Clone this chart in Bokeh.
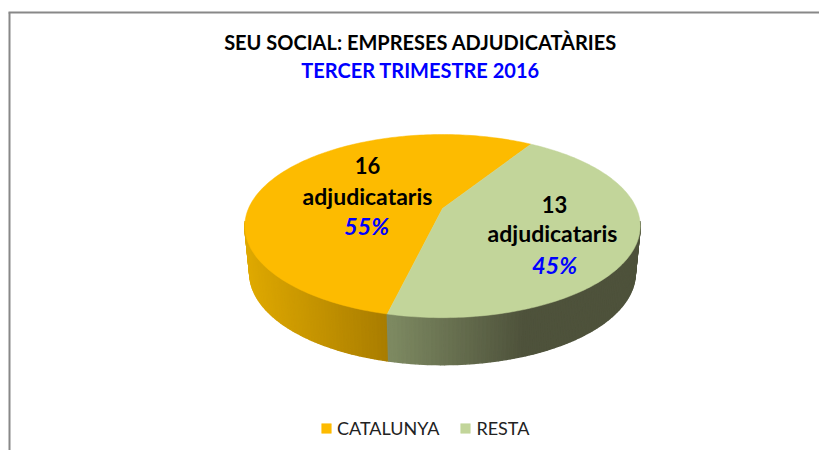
import numpy as np
from bokeh.plotting import figure
from bokeh.models import Range1d, Legend, LegendItem
from bokeh.core.properties import value
from bokeh.embed import file_html
from bokeh.resources import INLINE

categories = ["CATALUNYA", "RESTA"]
counts = [16, 13]
percents = ["55%", "45%"]
count_labels = ["16", "13"]
word = "adjudicataris"
title_1 = "SEU SOCIAL: EMPRESES ADJUDICATÀRIES"
title_2 = "TERCER TRIMESTRE 2016"
top_colors = ["#FDBB00", "#C2D59A"]

FONT = "Lato"
W, H = 819, 450
p = figure(width=W, height=H, x_range=Range1d(0, 819), y_range=Range1d(450, 0),
           output_backend="svg", toolbar_location=None, min_border=0,
           background_fill_color="white", border_fill_color="white", outline_line_color=None)
p.axis.visible = False
p.grid.visible = False

# perspective projection of a disc
CX, CY, SX, SY, K, DEPTH, TAPER = 442.0, 208.0, 194.0, 88.2, 0.192, 47.0, 0.975
def proj(theta, drop=0.0):
    c, s = np.cos(theta), np.sin(theta)
    d = 1 + K * s
    scale = TAPER if drop else 1.0
    return CX + scale * SX * c / d, CY - SY * s / d + drop

shares = np.array(counts) / sum(counts)
start = np.radians(58.0)          # boundary RESTA/CATALUNYA at the back, sweeping clockwise
resta_end = start - shares[1] * 2 * np.pi
cat_end = resta_end - shares[0] * 2 * np.pi

def lerp(a, b, t):
    t = min(max(t, 0), 1)
    return "#%02x%02x%02x" % tuple(int(round(a[i] + (b[i] - a[i]) * t)) for i in range(3))

# side wall: thin strips over the visible front half
xs, ys, cs = [], [], []
th_right = np.radians(-8.0)
th_left = np.radians(-172.0)
ths = np.linspace(th_left, th_right, 160)
for a, b in zip(ths[:-1], ths[1:]):
    for lo, hi in ([(a, b)] if not (a < resta_end < b) else [(a, resta_end), (resta_end, b)]):
        mid = (lo + hi) / 2
        x0, y0 = proj(lo); x1, y1 = proj(hi)
        x2, y2 = proj(hi, DEPTH); x3, y3 = proj(lo, DEPTH)
        xs.append([x0, x1, x2, x3]); ys.append([y0, y1, y2, y3])
        xm = proj(mid)[0]
        if mid < resta_end:
            cs.append(lerp((0xDF, 0xA9, 0x00), (0xA8, 0x7C, 0x00), (xm - 246) / (389 - 246)))
        else:
            cs.append(lerp((0x7E, 0x8A, 0x62), (0x4E, 0x52, 0x3B), (xm - 389) / (525 - 389)))
p.patches(xs, ys, fill_color=cs, line_color=cs, line_width=1.5)

def wedge(a, b, n=160):
    t = np.linspace(a, b, n)
    x, y = proj(t)
    return [CX, *x], [CY, *y]

xc, yc = wedge(resta_end, cat_end)
r_cat = p.patch(xc, yc, fill_color=top_colors[0], line_color=top_colors[0], line_width=0.5)
xr, yr = wedge(start, resta_end)
r_res = p.patch(xr, yr, fill_color=top_colors[1], line_color=top_colors[1], line_width=0.5)

# frame: top and left rule
p.segment([8, 9], [12, 12], [819, 9], [12, 450], line_color="#888888", line_width=2)

def txt(x, y, s, size, color="black", style="bold"):
    p.text([x], [y], text=[s], text_font=value(FONT), text_font_size=f"{size}px",
           text_font_style=style, text_color=color, text_align="center", text_baseline="middle")

txt(420, 41, title_1, 20)
txt(420, 69, title_2, 20, "#0000FF")

txt(367, 165, count_labels[0], 22)
txt(367, 195, word, 23)
txt(366, 225, percents[0], 23.5, "#0000FF", "bold italic")
txt(554, 204, count_labels[1], 22)
txt(552, 232, word, 23)
txt(554, 264, percents[1], 23.5, "#0000FF", "bold italic")

legend = Legend(items=[LegendItem(label=categories[0], renderers=[r_cat]),
                       LegendItem(label=categories[1], renderers=[r_res])],
                orientation="horizontal", location=(320, 11), background_fill_alpha=0, border_line_color=None,
                label_text_font=FONT, label_text_font_size="18px", label_text_color="#222222",
                glyph_width=12, glyph_height=12, spacing=20, label_standoff=5, padding=6, margin=0)
p.add_layout(legend, "center")

open("out.html", "w").write(file_html(p, INLINE))
